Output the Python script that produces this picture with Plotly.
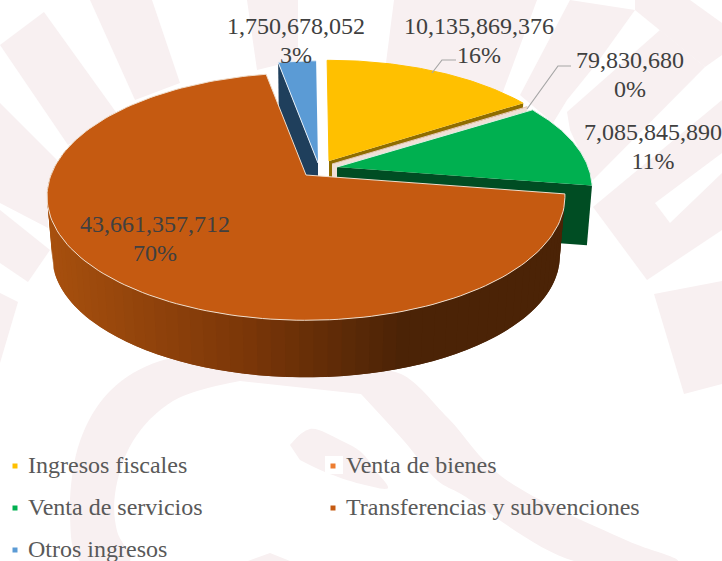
import math
import plotly.graph_objects as go

categories = ['Ingresos fiscales', 'Venta de bienes', 'Venta de servicios',
              'Transferencias y subvenciones', 'Otros ingresos']
values = [10135869376, 79830680, 7085845890, 43661357712, 1750678052]
colors = ['#FFC000', '#ED7D31', '#00B050', '#C55A11', '#5B9BD5']
side_colors = ['#8F6D00', '#F0E0D6', '#004D23', '#7A3608', '#1F3F5C']
edge_colors = ['#FFC000', '#E4C9B6', '#DDEFE4', '#F0DDCB', '#E6EEF6']

# exploded slice tips, in picture pixels
apex = [(329, 161), (332, 164), (337, 167), (306, 175), (318, 163)]
top_scale = [0.985, 0.985, 0.985, 1, 1]
label_xy = [(479, 28), (630, 62), (653, 134), (155, 226), (296, 28)]
label_gap = 29
legend_xy = [(28, 467), (346, 467), (28, 509), (346, 509), (28, 551)]

R, K, Q = 255, 120, 0.174   # perspective of the pie top
THICK, LOW = 60, 0.98
START = -0.5
WASH = '#F8F0F1'
TEXT = '#404040'
LEGEND_TEXT = '#595959'

total = sum(values)


def project(a_deg, tip, scale=1.0, drop=0):
    a = math.radians(a_deg)
    w = 1 + Q * math.cos(a)
    x = tip[0] + scale * R * math.sin(a) / w
    y = tip[1] + drop + scale * K * math.cos(a) / w * -1
    return x, y


def arc(a0, a1, tip, scale=1.0, drop=0, n=80):
    pts = [project(a0 + (a1 - a0) * i / n, tip, scale, drop) for i in range(n + 1)]
    return [p[0] for p in pts], [p[1] for p in pts]


def mix(stops, x):
    for (x0, c0), (x1, c1) in zip(stops, stops[1:]):
        if x <= x1:
            t = max(0, (x - x0) / (x1 - x0))
            rgb = [round(c0[i] + (c1[i] - c0[i]) * t) for i in range(3)]
            return 'rgb(%d,%d,%d)' % tuple(rgb)
    return 'rgb(%d,%d,%d)' % stops[-1][1]


def poly(xs, ys, fill, line=None, width=0, spline=False):
    fig.add_trace(go.Scatter(x=list(xs), y=list(ys), mode='lines', fill='toself',
                             fillcolor=fill, hoverinfo='skip', showlegend=False,
                             line=dict(color=line or fill, width=width,
                                       shape='spline' if spline else 'linear')))


fig = go.Figure()

# watermark behind the chart
rays = [
    ([0, 44, 118, 68], [45, 12, 115, 145]),
    ([0, 57, 48, 48, 0], [103, 160, 185, 228, 203]),
    ([0, 50, 28, 0], [210, 250, 282, 263]),
    ([0, 18, 0], [293, 302, 363]),
    ([90, 152, 180, 135], [0, 0, 83, 100]),
    ([247, 298, 298, 257], [0, 0, 60, 70]),
    ([386, 394, 537, 501], [63, 0, 0, 97]),
    ([570, 635, 597, 567, 553, 520], [0, 10, 63, 100, 123, 95]),
    ([660, 705, 593, 570, 567], [30, 67, 180, 130, 112]),
    ([635, 690, 722, 722, 705, 660, 635], [0, 0, 23, 55, 67, 30, 10]),
    ([593, 722, 722, 647], [207, 100, 230, 280]),
    ([654, 722, 722, 684], [294, 281, 384, 394]),
]
for xs, ys in rays:
    poly(xs, ys, WASH)
poly([655, 722, 722, 670], [203, 153, 173, 223], 'white')

curves = [
    ([240, 173, 133, 115, 117, 130, 80, 70, 80, 110, 160, 240],
     [381, 401, 441, 494, 531, 561, 561, 514, 441, 391, 361, 355]),
    ([361, 404, 438, 461, 574, 678, 628, 501, 448, 401, 361],
     [394, 441, 481, 494, 561, 561, 541, 476, 418, 374, 370]),
    ([290, 310, 340, 361, 375, 388, 361, 325, 300],
     [445, 429, 440, 452, 470, 488, 484, 472, 460]),
    ([240, 240, 361, 361], [355, 381, 394, 370]),
    ([248, 270, 290], [561, 553, 561]),
]
for xs, ys in curves[:3]:
    poly(xs, ys, WASH, spline=True)
for xs, ys in curves[3:]:
    poly(xs, ys, WASH)

# angles of each slice, clockwise from the back of the pie
spans = []
run = START
for v in values:
    spans.append((run, run + v / total * 360))
    run = spans[-1][1]

# cut faces and top faces, back slices first
for i in [4, 0, 1, 2]:
    a0, a1 = spans[i]
    cut = a0 if i == 4 else a1
    ex, ey = project(cut, apex[i], top_scale[i])
    bx, by = project(cut, apex[i], LOW * top_scale[i], THICK)
    poly([apex[i][0], ex, bx, apex[i][0]], [apex[i][1], ey, by, apex[i][1] + THICK], side_colors[i])
    xs, ys = arc(a0, a1, apex[i], top_scale[i])
    poly([apex[i][0]] + xs, [apex[i][1]] + ys, colors[i], edge_colors[i], 1)

# leader lines for the two labels that sit away from their slices
fig.add_trace(go.Scatter(x=[432, 442, 456], y=[73, 60, 60], mode='lines', hoverinfo='skip',
                         showlegend=False, line=dict(color='#A6A6A6', width=1.2)))
fig.add_trace(go.Scatter(x=[527, 558, 571], y=[109, 66, 66], mode='lines', hoverinfo='skip',
                         showlegend=False, line=dict(color='#A6A6A6', width=1.2)))

# big slice: shaded rim, each band overlapping the next so no seams show
shade = [(50, (168, 80, 14)), (250, (122, 54, 8)), (400, (75, 35, 6))]
a0, a1 = spans[3]
tip = apex[3]
rim_end = 285
steps = 70
for s in range(steps):
    p0 = a0 + (rim_end - a0) * s / steps
    p1 = a0 + (rim_end - a0) * (s + 2) / steps
    xt, yt = arc(p0, min(p1, rim_end), tip, n=4)
    xb, yb = arc(p0, min(p1, rim_end), tip, LOW, THICK, n=4)
    mid = project(a0 + (rim_end - a0) * (s + 0.5) / steps, tip, LOW, THICK)[0]
    poly(xt + xb[::-1], yt + yb[::-1], mix(shade, mid))
xs, ys = arc(a0, a1, tip, n=160)
poly([tip[0]] + xs + [tip[0]], [tip[1]] + ys + [tip[1]], colors[3], edge_colors[3], 1)

# slice labels
for i, v in enumerate(values):
    x, y = label_xy[i]
    fig.add_trace(go.Scatter(x=[x, x], y=[y, y + label_gap], mode='text', hoverinfo='skip',
                             text=['{:,}'.format(v), '%d%%' % round(v / total * 100)],
                             textposition='middle center', showlegend=False,
                             textfont=dict(family='Liberation Serif', size=24, color=TEXT)))

# legend, two columns
poly([325, 343, 343, 325], [456, 456, 474, 474], 'white')
for i, name in enumerate(categories):
    x, y = legend_xy[i]
    fig.add_trace(go.Scatter(x=[x - 13], y=[y - 1], mode='markers', hoverinfo='skip', showlegend=False,
                             marker=dict(symbol='square', size=5, color=colors[i], line=dict(width=0))))
    fig.add_trace(go.Scatter(x=[x], y=[y], mode='text', text=[name], hoverinfo='skip',
                             textposition='middle right', showlegend=False,
                             textfont=dict(family='Liberation Serif', size=24, color=LEGEND_TEXT)))

fig.update_xaxes(range=[0, 722], visible=False, fixedrange=True)
fig.update_yaxes(range=[561, 0], visible=False, fixedrange=True)
fig.update_layout(width=722, height=561, margin=dict(l=0, r=0, t=0, b=0),
                  paper_bgcolor='white', plot_bgcolor='white', showlegend=False)

fig.write_html("out.html", config=dict(displayModeBar=False),
               post_script="document.body.style.margin='0';")
